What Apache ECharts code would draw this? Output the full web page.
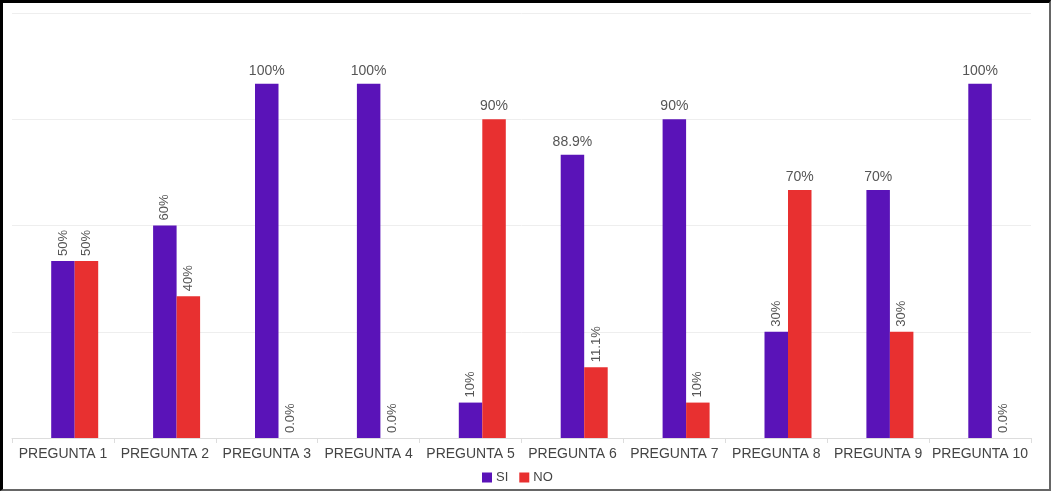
<!DOCTYPE html>
<html>
<head>
<meta charset="utf-8">
<script src="https://cdn.jsdelivr.net/npm/echarts@6/dist/echarts.min.js"></script>
<style>
html,body{margin:0;padding:0;background:#fff;}
#wrap{position:relative;width:1051px;height:491px;}
#chart{width:1051px;height:491px;}
#frame{position:absolute;left:0;top:0;width:1046px;height:486px;border-top:3px solid #000;border-left:3px solid #000;border-right:2px solid #666;border-bottom:2px solid #666;pointer-events:none;}
</style>
</head>
<body>
<div id="wrap"><div id="chart"></div><div id="frame"></div></div>
<script>
var categories = ['PREGUNTA 1','PREGUNTA 2','PREGUNTA 3','PREGUNTA 4','PREGUNTA 5','PREGUNTA 6','PREGUNTA 7','PREGUNTA 8','PREGUNTA 9','PREGUNTA 10'];
// alturas de barra tal como se ven en la imagen
var siValues = [50, 60, 100, 100, 10, 80, 90, 30, 70, 100];
var noValues = [50, 40, 0, 0, 90, 20, 10, 70, 30, 0];
// textos de las etiquetas
var siLabels = ['50%','60%','100%','100%','10%','88.9%','90%','30%','70%','100%'];
var noLabels = ['50%','40%','0.0%','0.0%','90%','11.1%','10%','70%','30%','0.0%'];

var myChart = echarts.init(document.getElementById('chart'));

// etiquetas verticales para las barras bajas
function toItems(arr, labels){
	var out = [];
	arr.forEach(function(v, i){
		var item = {value:v, name:labels[i]};
		if(v < 65){
			item.label = {rotate:90, align:'left', verticalAlign:'middle', distance:5, fontSize:13};
		}
		out.push(item);
	});
	return out;
}

var lbl = {show:true, position:'top', formatter:function(p){ return p.data.name; }, color:'#555', fontSize:14, fontFamily:'Liberation Sans, Arial', distance:6};

myChart.setOption({
	animation:false,
	legend:{
		data:['SI','NO'],
		top:466,
		left:477,
		itemWidth:10,
		itemHeight:10,
		itemGap:11,
		icon:'rect',
		textStyle:{color:'#444', fontSize:13, fontFamily:'Liberation Sans, Arial', padding:[0,0,0,-1]}
	},
	grid:{left:12, right:20, top:13, bottom:53},
	xAxis:{
		type:'category',
		data:categories,
		axisLine:{lineStyle:{color:'#ddd'}},
		axisTick:{show:true, length:5, lineStyle:{color:'#ddd'}},
		axisLabel:{color:'#444', fontSize:14, fontFamily:'Liberation Sans, Arial', margin:9, interval:0}
	},
	yAxis:{
		type:'value',
		min:0,
		max:120,
		interval:30,
		axisLabel:{show:false},
		axisLine:{show:false},
		axisTick:{show:false},
		splitLine:{lineStyle:{color:'#eeeeee'}}
	},
	series:[
		{ name:'pad', type:'bar', barWidth:23.5, barGap:0, data:[] },
		{
			name:'SI', type:'bar', barWidth:23.5, barGap:0,
			itemStyle:{color:'#5a13b8'},
			label:lbl,
			data:toItems(siValues, siLabels)
		},
		{
			name:'NO', type:'bar', barWidth:23.5, barGap:0,
			itemStyle:{color:'#e83030'},
			label:lbl,
			data:toItems(noValues, noLabels)
		}
	]
});
</script>
</body>
</html>
